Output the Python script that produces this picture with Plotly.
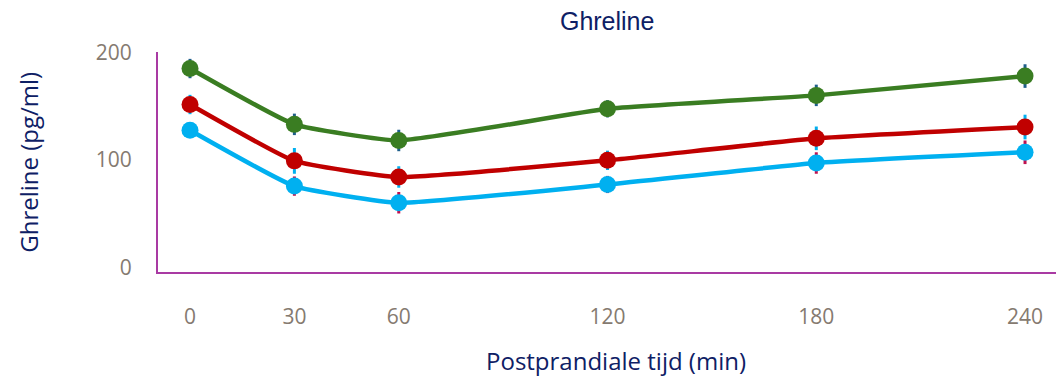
import plotly.graph_objects as go

times = [0, 30, 60, 120, 180, 240]
tick_labels = ["0", "30", "60", "120", "180", "240"]

green_vals = [185, 133, 118, 147.5, 160, 178]
green_err = [9, 10, 10, 8, 10, 11]
red_vals = [151.5, 99, 84, 99.5, 120, 130.5]
red_err = [9, 12, 10, 9, 11, 11.5]
cyan_vals = [127.5, 75.5, 60, 77, 97, 107]
cyan_err = [6, 9, 10, 8, 10, 11]

y_ticks = [0, 100, 200]

series = [
    ("Groen", green_vals, green_err, "#3A7D22", "#1F5F8B"),
    ("Rood", red_vals, red_err, "#C00000", "#00B0F0"),
    ("Blauw", cyan_vals, cyan_err, "#00B0F0", "#C0104F"),
]

fig = go.Figure()
for name, vals, err, col, ecol in series:
    fig.add_trace(go.Scatter(
        x=times, y=vals, name=name, mode="lines+markers",
        line=dict(color=col, width=4.5, shape="spline", smoothing=0.4),
        marker=dict(color=col, size=17, symbol="circle"),
        error_y=dict(type="data", array=err, visible=True, color=ecol, thickness=3, width=0),
        showlegend=False,
    ))

axis_font = dict(family="Open Sans, Lato, sans-serif", size=21, color="#857A70")
title_col = "#0E2065"

fig.update_layout(
    width=1056, height=378,
    margin=dict(l=158, r=0, t=52, b=106),
    paper_bgcolor="white", plot_bgcolor="white",
    title=dict(text="Ghreline", x=0.575, xanchor="center", y=0.945, yanchor="middle",
               font=dict(family="Liberation Sans Narrow, Arial Narrow, Liberation Sans, sans-serif", size=25, color=title_col)),
    xaxis=dict(range=[-9.2, 248.9], tickvals=times, ticktext=tick_labels,
               showgrid=False, zeroline=False, showline=True, linecolor="#A93AA3", linewidth=2,
               ticks="", tickfont=axis_font, ticklabelstandoff=25),
    yaxis=dict(range=[-4.5, 200.4], tickvals=y_ticks, showgrid=False, zeroline=False,
               showline=True, linecolor="#A93AA3", linewidth=2, ticks="", tickfont=axis_font,
               ticklabelstandoff=20),
    annotations=[
        dict(text="Postprandiale tijd (min)", xref="paper", yref="paper", x=0.51, y=-0.40,
             xanchor="center", yanchor="middle", showarrow=False,
             font=dict(family="Open Sans, Lato, sans-serif", size=24, color=title_col)),
        dict(text="Ghreline (pg/ml)", xref="paper", yref="paper", x=-0.145, y=0.5,
             xanchor="center", yanchor="middle", showarrow=False, textangle=-90,
             font=dict(family="Open Sans, Lato, sans-serif", size=24, color=title_col)),
    ],
)

fig.write_html("out.html", config={"displayModeBar": False},
               post_script="document.body.style.margin='0';document.body.style.overflow='hidden';")
